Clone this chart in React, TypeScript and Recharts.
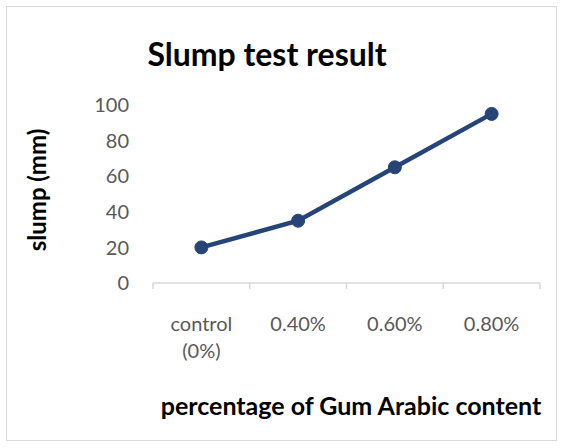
import React from 'react';
import { LineChart, Line, XAxis, YAxis } from 'recharts';

const categories = ['control (0%)', '0.40%', '0.60%', '0.80%'];
const slumpValues = [20, 35, 65, 95];
const yTicks = [0, 20, 40, 60, 80, 100];

const chartData = categories.map((cat, i) => ({ cat, slump: slumpValues[i] }));

const FONT = 'Lato, "Open Sans", sans-serif';

const CategoryTick = (props: any) => {
  const { x, y, payload, index, visibleTicksCount } = props;
  const half = payload.offset || 48;
  const isLast = index === visibleTicksCount - 1;
  const words = String(payload.value).split(' ');
  return (
    <g>
      <line x1={x - half} x2={x - half} y1={y} y2={y + 6} stroke="#d9d9d9" strokeWidth={1.5} />
      {isLast && <line x1={x + half} x2={x + half} y1={y} y2={y + 6} stroke="#d9d9d9" strokeWidth={1.5} />}
      <text x={x} y={y + 48} textAnchor="middle" fill="#595959" fontSize={20} fontFamily={FONT}>
        {words.map((w, i) => (
          <tspan key={i} x={x} dy={i === 0 ? 0 : 27}>{w}</tspan>
        ))}
      </text>
    </g>
  );
};

const App: React.FC = () => {
  return (
    <div style={{ position: 'absolute', left: 0, top: 0, width: 563, height: 448, background: '#fff', fontFamily: FONT }}>
      <div style={{ position: 'absolute', left: 6, top: 6, width: 549, height: 433, border: '1.5px solid #d9d9d9' }} />
      <div style={{ position: 'absolute', left: 267, top: 53, transform: 'translate(-50%, -50%)', fontSize: 32, fontWeight: 700, color: '#000', whiteSpace: 'nowrap' }}>
        Slump test result
      </div>
      <div style={{ position: 'absolute', left: 36, top: 190, transform: 'translate(-50%, -50%) rotate(-90deg)', fontSize: 24, fontWeight: 700, color: '#000', whiteSpace: 'nowrap' }}>
        slump (mm)
      </div>
      <div style={{ position: 'absolute', left: 351, top: 405, transform: 'translate(-50%, -50%)', fontSize: 25, fontWeight: 700, color: '#000', whiteSpace: 'nowrap' }}>
        percentage of Gum Arabic content
      </div>
      <div style={{ position: 'absolute', left: 0, top: 0 }}>
        <LineChart width={563} height={448} data={chartData} margin={{ top: 105, right: 23, bottom: 0, left: 0 }}>
          <XAxis
            dataKey="cat"
            scale="band"
            height={165}
            tickSize={0}
            tickMargin={0}
            tickLine={false}
            axisLine={{ stroke: '#d9d9d9', strokeWidth: 1.5 }}
            tick={<CategoryTick />}
            interval={0}
          />
          <YAxis
            width={153}
            domain={[0, 100]}
            ticks={yTicks}
            axisLine={false}
            tickLine={false}
            tickSize={0}
            tickMargin={24}
            tick={{ fill: '#595959', fontSize: 20, fontFamily: FONT }}
          />
          <Line
            type="linear"
            dataKey="slump"
            stroke="#264478"
            strokeWidth={4.5}
            dot={{ r: 6.5, fill: '#264478', stroke: '#264478', strokeWidth: 1 }}
            activeDot={false}
            isAnimationActive={false}
          />
        </LineChart>
      </div>
    </div>
  );
};

export default App;
